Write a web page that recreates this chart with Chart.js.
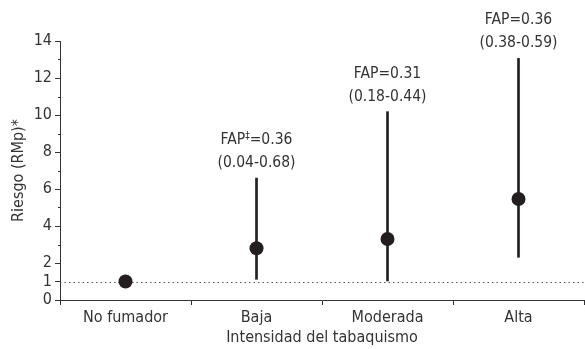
<!DOCTYPE html>
<html>
<head>
<meta charset="utf-8">
<script src="https://cdn.jsdelivr.net/npm/chart.js@4"></script>
<style>
  html, body { margin: 0; padding: 0; background: #fff; }
  #wrap { width: 585px; height: 349px; }
</style>
</head>
<body>
<div id="wrap"><canvas id="chart"></canvas></div>
<script>
// Datos
const categorias = ['No fumador', 'Baja', 'Moderada', 'Alta'];
const rmp = [1.0, 2.8, 3.3, 5.46];
const icInf = [null, 1.12, 1.03, 2.31];
const icSup = [null, 6.59, 10.18, 13.06];
const fapTexto = [null, 'FAP\u2021=0.36', 'FAP=0.31', 'FAP=0.36'];
const fapIC = [null, '(0.04-0.68)', '(0.18-0.44)', '(0.38-0.59)'];
const yTicks = [0, 1, 2, 4, 6, 8, 10, 12, 14];
const yMinor = [3, 5, 7, 9, 11, 13];

const FONT = "'Liberation Sans Narrow', 'Arial Narrow', 'DejaVu Sans Condensed', sans-serif";
const INK = '#231f20';
const TXT = '#333333';

// texto con el simbolo ‡ en superindice
function textoSup(ctx, txt, x, y) {
    const k = txt.indexOf('\u2021');
    if (k < 0) { ctx.fillText(txt, x, y); return; }
    const a = txt.slice(0, k), b = txt.slice(k + 1);
    const fNormal = '15.5px ' + FONT, fSup = '10px ' + FONT;
    ctx.font = fNormal;
    const wa = ctx.measureText(a).width, wb = ctx.measureText(b).width;
    ctx.font = fSup;
    const ws = ctx.measureText('\u2021').width;
    let x0 = x - (wa + ws + wb) / 2;
    ctx.textAlign = 'left';
    ctx.font = fNormal;
    ctx.fillText(a, x0, y);
    ctx.font = fSup;
    ctx.fillText('\u2021', x0 + wa, y - 4);
    ctx.font = fNormal;
    ctx.fillText(b, x0 + wa + ws, y);
    ctx.textAlign = 'center';
}

// linea punteada de referencia en RMp = 1, marcas menores y textos FAP
const extras = {
    id: 'extras',
    beforeDatasetsDraw(c) {
        const { ctx, chartArea, scales } = c;
        const y1 = Math.round(scales.y.getPixelForValue(1)) + 0.5;
        ctx.save();
        ctx.strokeStyle = '#555';
        ctx.lineWidth = 1;
        ctx.setLineDash([1.5, 3]);
        ctx.beginPath();
        ctx.moveTo(chartArea.left, y1);
        ctx.lineTo(c.width, y1);
        ctx.stroke();
        ctx.restore();
    },
    afterDraw(c) {
        const { ctx, scales } = c;
        ctx.save();
        ctx.strokeStyle = TXT;
        ctx.lineWidth = 1;
        const x0 = scales.y.right;
        yMinor.forEach(v => {
            const py = Math.round(scales.y.getPixelForValue(v)) + 0.5;
            ctx.beginPath();
            ctx.moveTo(x0 - 2, py);
            ctx.lineTo(x0, py);
            ctx.stroke();
        });
        ctx.fillStyle = TXT;
        ctx.font = '15.5px ' + FONT;
        ctx.textAlign = 'center';
        ctx.textBaseline = 'middle';
        categorias.forEach((cat, i) => {
            if (!fapTexto[i]) return;
            const px = scales.x.getPixelForValue(i);
            const py = scales.y.getPixelForValue(icSup[i]);
            ctx.font = '15.5px ' + FONT;
            ctx.fillText(fapIC[i], px, py - 15);
            textoSup(ctx, fapTexto[i], px, py - 38);
        });
        ctx.restore();
    }
};

new Chart(document.getElementById('chart'), {
    data: {
        labels: categorias,
        datasets: [
            {
                type: 'bar',
                label: 'IC',
                data: categorias.map((c, i) => icInf[i] === null ? null : [icInf[i], icSup[i]]),
                backgroundColor: INK,
                barThickness: 2,
                borderWidth: 0,
                order: 2
            },
            {
                type: 'line',
                label: 'RMp',
                data: rmp,
                showLine: false,
                pointRadius: 7,
                pointHoverRadius: 7,
                pointBackgroundColor: INK,
                pointBorderColor: INK,
                pointBorderWidth: 0,
                order: 1
            }
        ]
    },
    plugins: [extras],
    options: {
        responsive: true,
        maintainAspectRatio: false,
        animation: false,
        layout: { autoPadding: false, padding: { top: 41, right: 1, left: 0, bottom: 0 } },
        plugins: {
            legend: { display: false },
            tooltip: { enabled: false }
        },
        scales: {
            x: {
                offset: true,
                grid: {
                    offset: true,
                    drawOnChartArea: false,
                    tickLength: 5,
                    color: TXT,
                    tickColor: TXT
                },
                border: { color: TXT, width: 1 },
                ticks: {
                    color: TXT,
                    padding: 3,
                    font: { family: FONT, size: 16 }
                },
                title: {
                    display: true,
                    text: 'Intensidad del tabaquismo',
                    color: TXT,
                    font: { family: FONT, size: 16 },
                    padding: { top: 0, bottom: 2 }
                },
                afterFit(s) {
                    s.height = 49;
                    s.paddingLeft = 0;
                    s.paddingRight = 0;
                }
            },
            y: {
                min: 0,
                max: 14,
                afterBuildTicks(s) { s.ticks = yTicks.map(v => ({ value: v })); },
                grid: {
                    drawOnChartArea: false,
                    tickLength: 5,
                    color: TXT,
                    tickColor: TXT
                },
                border: { color: TXT, width: 1 },
                ticks: {
                    color: TXT,
                    padding: 3,
                    font: { family: FONT, size: 16 }
                },
                title: {
                    display: true,
                    text: 'Riesgo (RMp)*',
                    color: TXT,
                    font: { family: FONT, size: 16 },
                    padding: { top: 9, bottom: 0 }
                },
                afterFit(s) { s.width = 60; }
            }
        }
    }
});
</script>
</body>
</html>
